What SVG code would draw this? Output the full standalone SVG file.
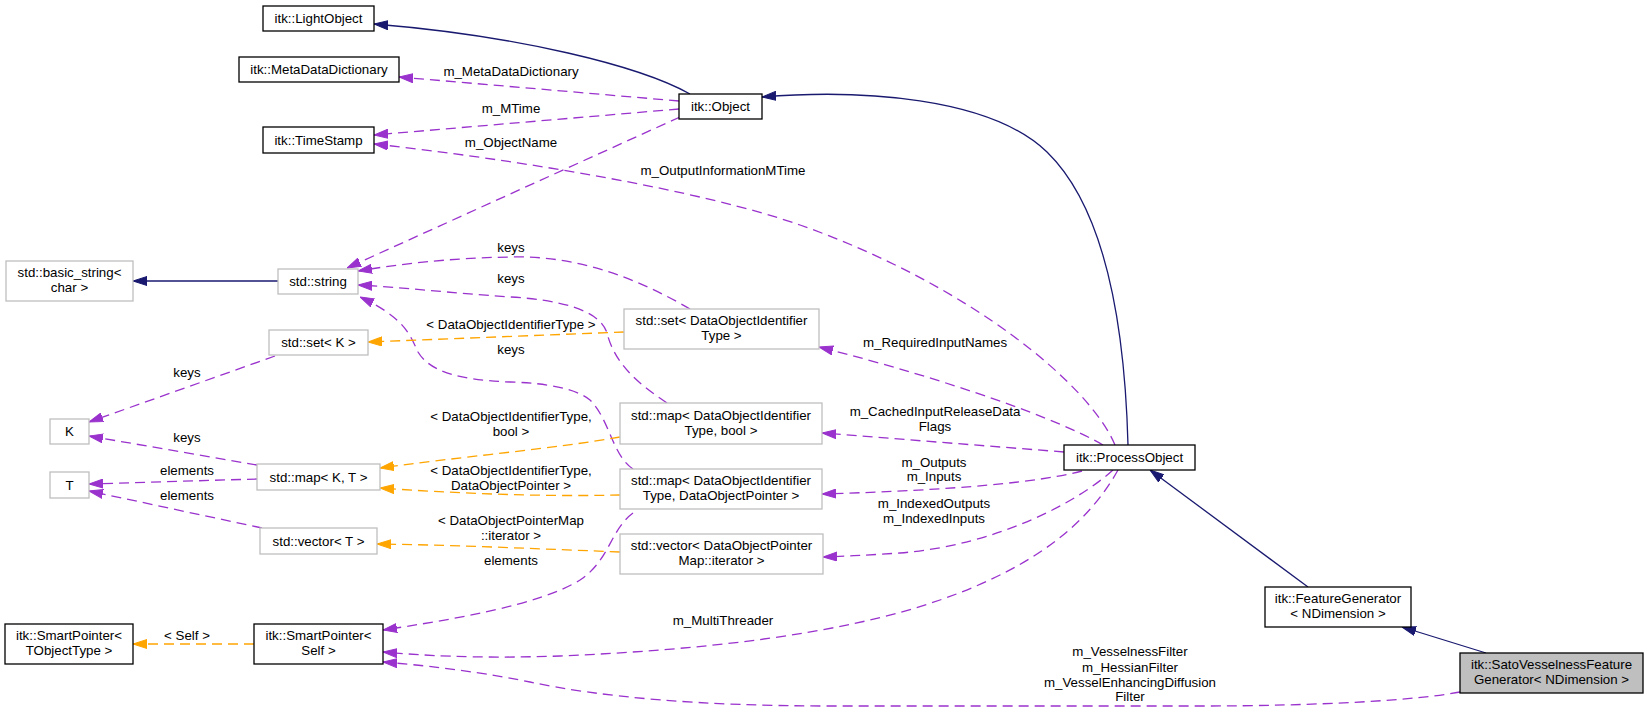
<svg xmlns="http://www.w3.org/2000/svg" width="1648" height="711" viewBox="0 0 1648 711">
<defs>
<style>
text{font-family:"Liberation Sans",Arial,sans-serif;font-size:13.3px;fill:#000;text-anchor:middle}
.nb{fill:#fff;stroke:#000;stroke-width:1.3}
.ng{fill:#fff;stroke:#bfbfbf;stroke-width:1.3}
.ns{fill:#bfbfbf;stroke:#000;stroke-width:1.3}
.inh{fill:none;stroke:#191970;stroke-width:1.3;marker-end:url(#an)}
.use{fill:none;stroke:#9a32cd;stroke-width:1.3;stroke-dasharray:10,6;marker-end:url(#ap)}
.tpl{fill:none;stroke:#ffa500;stroke-width:1.3;stroke-dasharray:10,6;marker-end:url(#ao)}
</style>
<marker id="an" markerUnits="userSpaceOnUse" markerWidth="14" markerHeight="10" viewBox="0 0 14 10" refX="14" refY="5" orient="auto"><path d="M0,0.5 L14,5 L0,9.5 z" fill="#191970" stroke="#191970" stroke-width="1"/></marker>
<marker id="ap" markerUnits="userSpaceOnUse" markerWidth="14" markerHeight="10" viewBox="0 0 14 10" refX="14" refY="5" orient="auto"><path d="M0,0.5 L14,5 L0,9.5 z" fill="#9a32cd" stroke="#9a32cd" stroke-width="1"/></marker>
<marker id="ao" markerUnits="userSpaceOnUse" markerWidth="14" markerHeight="10" viewBox="0 0 14 10" refX="14" refY="5" orient="auto"><path d="M0,0.5 L14,5 L0,9.5 z" fill="#ffa500" stroke="#ffa500" stroke-width="1"/></marker>
</defs>
<rect width="1648" height="711" fill="#fff"/>
<g id="connectors">
<path class="inh" d="M690,94 C640,66 520,36 374,24"/>
<path class="inh" d="M1128,445 C1126,370 1117,220 1047,152 C990,97 860,89 762,97"/>
<path class="use" d="M679,101 L399,77"/>
<text x="511" y="76">m_MetaDataDictionary</text>
<path class="use" d="M679,109 L374,135"/>
<text x="511" y="113">m_MTime</text>
<path class="use" d="M1115,445 C1090,385 970,285 800,225 C700,190 520,160 374,144"/>
<text x="723" y="175">m_OutputInformationMTime</text>
<path class="use" d="M680,117 L347,268"/>
<text x="511" y="147">m_ObjectName</text>
<path class="inh" d="M278,281 L133,281"/>
<path class="use" d="M690,309 C640,280 580,255 510,257 C450,258 400,264 358,271"/>
<text x="511" y="252">keys</text>
<path class="use" d="M667,403 C640,385 615,365 607,333 C600,310 560,300 511,297 C450,293 400,287 358,285"/>
<text x="511" y="283">keys</text>
<path class="use" d="M633,469 C612,455 610,420 590,400 C575,388 545,383 510,382 C460,380 430,372 418,352 C410,335 405,318 360,297"/>
<text x="511" y="354">keys</text>
<path class="tpl" d="M624,332 L368,342"/>
<text x="511" y="329">&lt; DataObjectIdentifierType &gt;</text>
<path class="use" d="M275,356 L89,422"/>
<text x="187" y="377">keys</text>
<path class="use" d="M257,465 L89,436"/>
<text x="187" y="442">keys</text>
<path class="use" d="M257,479 L89,484"/>
<text x="187" y="475">elements</text>
<path class="use" d="M262,528 L89,491"/>
<text x="187" y="500">elements</text>
<path class="tpl" d="M620,437 C560,448 450,458 380,468"/>
<text x="511" y="421">&lt; DataObjectIdentifierType,</text>
<text x="511" y="436">bool &gt;</text>
<path class="tpl" d="M620,495 C540,497 450,493 380,488"/>
<text x="511" y="475">&lt; DataObjectIdentifierType,</text>
<text x="511" y="490">DataObjectPointer &gt;</text>
<path class="tpl" d="M620,552 C520,548 450,545 377,544"/>
<text x="511" y="525">&lt; DataObjectPointerMap</text>
<text x="511" y="540">::iterator &gt;</text>
<path class="use" d="M633,513 C610,530 610,560 580,580 C540,605 450,620 383,630"/>
<text x="511" y="565">elements</text>
<path class="use" d="M1118,470 C1090,520 1040,565 940,600 C840,635 700,650 560,656 C470,659 420,655 383,652"/>
<text x="723" y="625">m_MultiThreader</text>
<path class="use" d="M1460,692 C1420,700 1320,706 1200,706 L830,706 C700,706 600,697 530,682 C470,670 420,665 383,662"/>
<text x="1130" y="656">m_VesselnessFilter</text>
<text x="1130" y="672">m_HessianFilter</text>
<text x="1130" y="687">m_VesselEnhancingDiffusion</text>
<text x="1130" y="701">Filter</text>
<path class="tpl" d="M254,644 L133,644"/>
<text x="187" y="640">&lt; Self &gt;</text>
<path class="use" d="M1103,445 C1060,420 950,380 819,347"/>
<text x="935" y="347">m_RequiredInputNames</text>
<path class="use" d="M1064,452 L822,433"/>
<text x="935" y="416">m_CachedInputReleaseData</text>
<text x="935" y="431">Flags</text>
<path class="use" d="M1082,471 C1040,482 960,490 822,494"/>
<text x="934" y="467">m_Outputs</text>
<text x="934" y="481">m_Inputs</text>
<path class="use" d="M1113,470 C1080,500 1000,545 900,553 C870,555 850,556 823,557"/>
<text x="934" y="508">m_IndexedOutputs</text>
<text x="934" y="523">m_IndexedInputs</text>
<path class="inh" d="M1308,587 L1150,470"/>
<path class="inh" d="M1486,653 L1402,627"/>
</g>
<g id="n_sato"><rect class="ns" x="1460" y="653" width="183" height="40"/><text x="1551.5" y="668.5">itk::SatoVesselnessFeature</text><text x="1551.5" y="683.5">Generator&lt; NDimension &gt;</text></g>
<g id="n_fg"><rect class="nb" x="1265" y="587" width="146" height="40"/><text x="1338" y="602.5">itk::FeatureGenerator</text><text x="1338" y="617.5">&lt; NDimension &gt;</text></g>
<g id="n_po"><rect class="nb" x="1064" y="445" width="131" height="25"/><text x="1129.5" y="462">itk::ProcessObject</text></g>
<g id="n_obj"><rect class="nb" x="679" y="94" width="83" height="25"/><text x="720.5" y="111">itk::Object</text></g>
<g id="n_lo"><rect class="nb" x="263" y="6" width="111" height="25"/><text x="318.5" y="23">itk::LightObject</text></g>
<g id="n_mdd"><rect class="nb" x="239" y="57" width="160" height="25"/><text x="319" y="74">itk::MetaDataDictionary</text></g>
<g id="n_ts"><rect class="nb" x="263" y="127" width="111" height="26"/><text x="318.5" y="144.5">itk::TimeStamp</text></g>
<g id="n_str"><rect class="ng" x="278" y="269" width="80" height="25"/><text x="318" y="286">std::string</text></g>
<g id="n_bstr"><rect class="ng" x="6" y="261" width="127" height="40"/><text x="69.5" y="276.5">std::basic_string&lt;</text><text x="69.5" y="291.5">char &gt;</text></g>
<g id="n_setk"><rect class="ng" x="269" y="330" width="99" height="25"/><text x="318.5" y="347">std::set&lt; K &gt;</text></g>
<g id="n_setd"><rect class="ng" x="624" y="309" width="195" height="40"/><text x="721.5" y="324.5">std::set&lt; DataObjectIdentifier</text><text x="721.5" y="339.5">Type &gt;</text></g>
<g id="n_k"><rect class="ng" x="50" y="419" width="39" height="25"/><text x="69.5" y="436">K</text></g>
<g id="n_t"><rect class="ng" x="50" y="472" width="39" height="26"/><text x="69.5" y="489.5">T</text></g>
<g id="n_mapkt"><rect class="ng" x="257" y="464" width="123" height="26"/><text x="318.5" y="481.5">std::map&lt; K, T &gt;</text></g>
<g id="n_vect"><rect class="ng" x="260" y="528" width="117" height="26"/><text x="318.5" y="545.5">std::vector&lt; T &gt;</text></g>
<g id="n_mapb"><rect class="ng" x="620" y="403" width="202" height="41"/><text x="721" y="419.5">std::map&lt; DataObjectIdentifier</text><text x="721" y="434.5">Type, bool &gt;</text></g>
<g id="n_mapd"><rect class="ng" x="620" y="469" width="202" height="40"/><text x="721" y="485">std::map&lt; DataObjectIdentifier</text><text x="721" y="500">Type, DataObjectPointer &gt;</text></g>
<g id="n_vecd"><rect class="ng" x="620" y="534" width="203" height="40"/><text x="721.5" y="550">std::vector&lt; DataObjectPointer</text><text x="721.5" y="565">Map::iterator &gt;</text></g>
<g id="n_spt"><rect class="nb" x="5" y="624" width="128" height="40"/><text x="69" y="640">itk::SmartPointer&lt;</text><text x="69" y="655">TObjectType &gt;</text></g>
<g id="n_sps"><rect class="nb" x="254" y="624" width="129" height="40"/><text x="318.5" y="640">itk::SmartPointer&lt;</text><text x="318.5" y="655">Self &gt;</text></g>
</svg>
